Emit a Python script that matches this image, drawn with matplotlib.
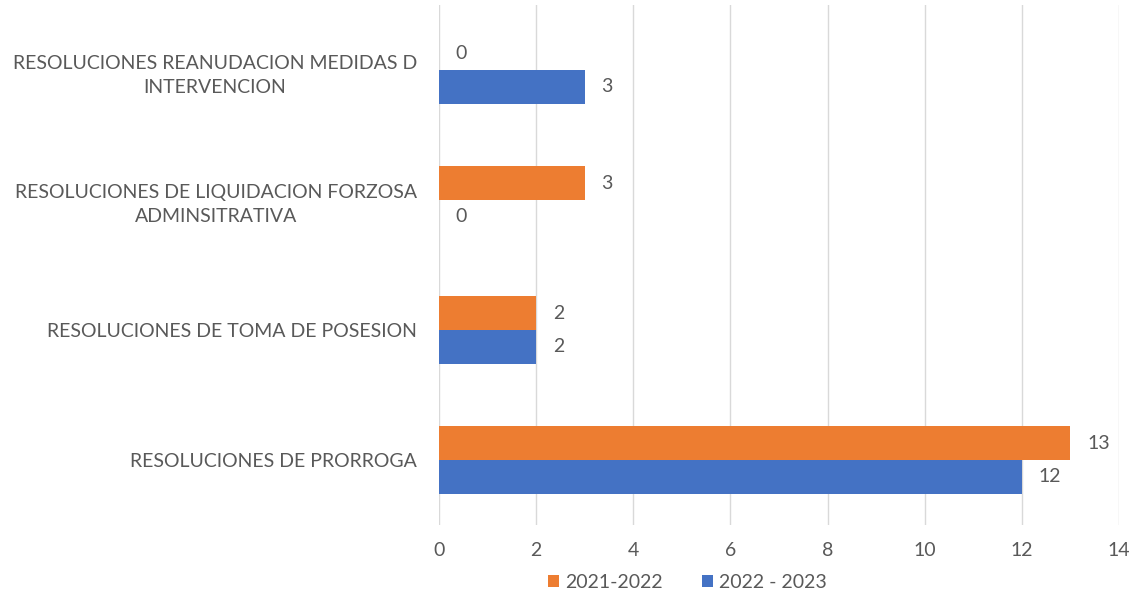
import matplotlib.pyplot as plt
import numpy as np

categories = ['RESOLUCIONES DE PRORROGA',
              'RESOLUCIONES DE TOMA DE POSESION',
              'RESOLUCIONES DE LIQUIDACION FORZOSA\nADMINSITRATIVA',
              'RESOLUCIONES REANUDACION MEDIDAS D\nINTERVENCION']
serie_2122 = [13, 2, 3, 0]
serie_2223 = [12, 2, 0, 3]
labels = ['2021-2022', '2022 - 2023']

ORANGE = '#ED7D31'
BLUE = '#4472C4'
GREY = '#595959'
FS = 14

plt.rcParams['font.family'] = ['Lato', 'DejaVu Sans']

fig = plt.figure(figsize=(11.35, 5.89), dpi=100)
ax = fig.add_axes([0.3868, 0.1087, 0.5991, 0.8828])

y = np.arange(len(categories))
h = 0.26
b1 = ax.barh(y + h/2, serie_2122, height=h, color=ORANGE, label=labels[0], zorder=3)
b2 = ax.barh(y - h/2, serie_2223, height=h, color=BLUE, label=labels[1], zorder=3)

for bars in (b1, b2):
    for bar in bars:
        w = bar.get_width()
        ax.annotate(str(int(w)), (w, bar.get_y() + bar.get_height()/2),
                    xytext=(12, 0), textcoords='offset points',
                    ha='left', va='center', fontsize=FS, color=GREY)

ax.set_xlim(0, 14)
ax.set_ylim(-0.5, 3.5)
ax.set_xticks(range(0, 15, 2))
ax.set_yticks(y)
ax.set_yticklabels(categories, ha='right', multialignment='center', linespacing=1.5)
ax.tick_params(axis='y', length=0, pad=16, labelsize=FS, labelcolor=GREY)
ax.tick_params(axis='x', length=0, pad=12, labelsize=FS, labelcolor=GREY)
ax.grid(axis='x', color='#D9D9D9', linewidth=1, zorder=0)
for s in ax.spines.values():
    s.set_visible(False)

ax.legend(loc='upper center', bbox_to_anchor=(0.365, -0.06), ncol=2, frameon=False,
          fontsize=FS, labelcolor=GREY, handlelength=0.6, handleheight=0.6,
          handletextpad=0.3, columnspacing=2.0)

fig.savefig('out.png', dpi=100)
